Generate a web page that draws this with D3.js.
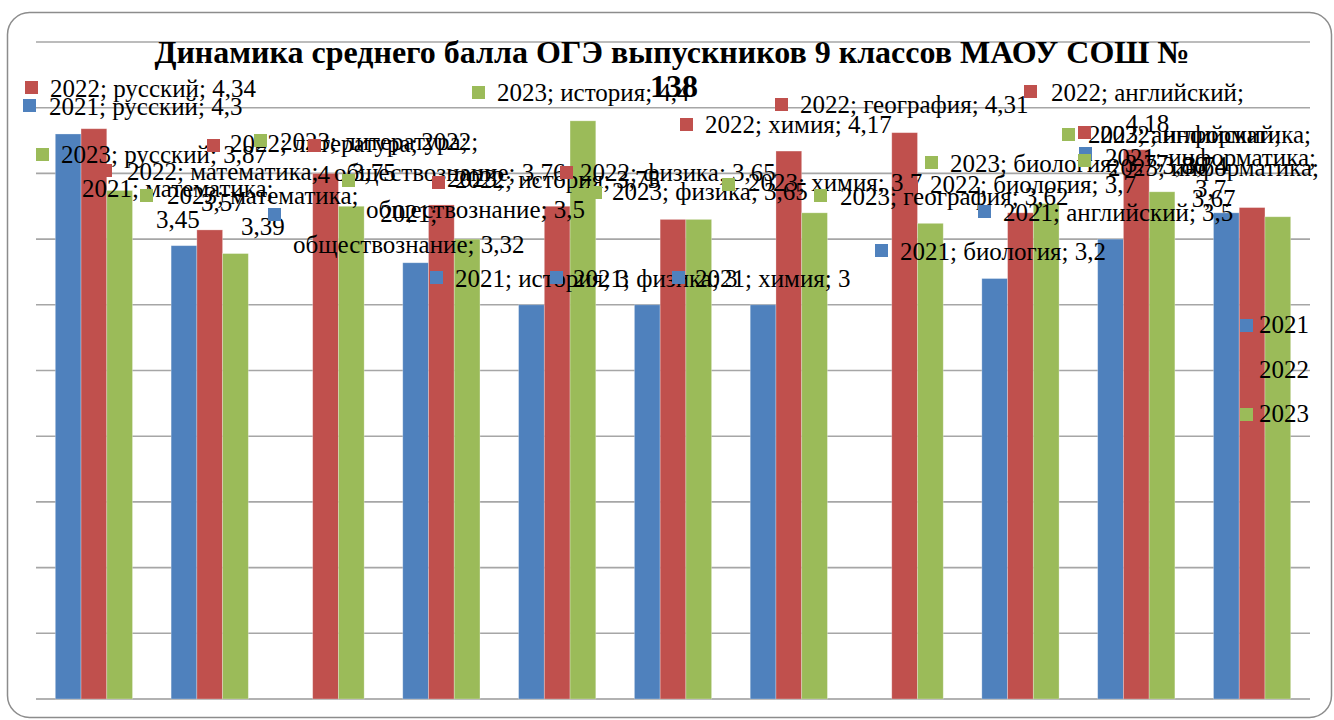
<!DOCTYPE html>
<html>
<head>
<meta charset="utf-8">
<script src="https://cdn.jsdelivr.net/npm/d3@7"></script>
<style>
  body { margin: 0; background: #fff; }
  svg { display: block; }
</style>
</head>
<body>
<svg id="chart"></svg>
<script>
// data
const categories = ['русский', 'математика', 'литература', 'обществознание', 'история', 'физика', 'химия', 'география', 'биология', 'английский', 'информатика'];
const years = ['2021', '2022', '2023'];
const scores2021 = [4.3, 3.45, null, 3.32, 3, 3, 3, null, 3.2, 3.5, 3.7];
const scores2022 = [4.34, 3.57, 4, 3.76, 3.75, 3.65, 4.17, 4.31, 3.7, 4.18, 3.74];
const scores2023 = [3.87, 3.39, 3.75, 3.5, 4.4, 3.65, 3.7, 3.62, 3.77, 3.86, 3.67];
const gridValues = [0, 0.5, 1, 1.5, 2, 2.5, 3, 3.5, 4, 4.5, 5];
const titleLines = ['Динамика среднего балла ОГЭ выпускников 9 классов МАОУ СОШ №', '138'];

const colors = { '2021': '#4f81bd', '2022': '#c0504d', '2023': '#9bbb59' };
const scores = { '2021': scores2021, '2022': scores2022, '2023': scores2023 };

// where excel left the data labels (they were dragged around by hand)
// split: one = single line, cat = break after category, year = break after year
const labelLayout = [
  { year: '2022', cat: 'русский', split: 'one', key: [25, 81], x: 50, y: 97 },
  { year: '2021', cat: 'русский', split: 'one', key: [23, 99], x: 49, y: 115 },
  { year: '2023', cat: 'русский', split: 'one', key: [36, 148], x: 61, y: 163 },
  { year: '2021', cat: 'математика', split: 'cat', key: [64, 198], x: 82, y: 197 },
  { year: '2022', cat: 'математика', split: 'cat', key: [99, 164], x: 127, y: 180 },
  { year: '2023', cat: 'математика', split: 'cat', key: [140, 189], x: 167, y: 204 },
  { year: '2022', cat: 'литература', split: 'cat', key: [207, 139], x: 230, y: 152 },
  { year: '2023', cat: 'литература', split: 'cat', key: [254, 134], x: 280, y: 150 },
  { year: '2021', cat: 'обществознание', split: 'year', key: [268, 208], x: 293, y: 222 },
  { year: '2022', cat: 'обществознание', split: 'year', key: [308, 139], x: 334, y: 150 },
  { year: '2023', cat: 'обществознание', split: 'year', key: [342, 174], x: 366, y: 187 },
  { year: '2023', cat: 'история', split: 'one', key: [472, 86], x: 497, y: 101 },
  { year: '2022', cat: 'история', split: 'one', key: [432, 176], x: 455, y: 188 },
  { year: '2021', cat: 'история', split: 'one', key: [430, 271], x: 455, y: 287 },
  { year: '2022', cat: 'физика', split: 'one', key: [560, 166], x: 580, y: 181 },
  { year: '2023', cat: 'физика', split: 'one', key: [589, 186], x: 612, y: 200 },
  { year: '2021', cat: 'физика', split: 'one', key: [550, 271], x: 573, y: 287 },
  { year: '2022', cat: 'химия', split: 'one', key: [680, 118], x: 705, y: 133 },
  { year: '2023', cat: 'химия', split: 'one', key: [722, 178], x: 748, y: 191 },
  { year: '2021', cat: 'химия', split: 'one', key: [672, 271], x: 695, y: 287 },
  { year: '2022', cat: 'география', split: 'one', key: [775, 98], x: 800, y: 113 },
  { year: '2023', cat: 'география', split: 'one', key: [814, 189], x: 840, y: 205 },
  { year: '2023', cat: 'биология', split: 'one', key: [925, 156], x: 950, y: 172 },
  { year: '2022', cat: 'биология', split: 'one', key: [905, 180], x: 930, y: 193 },
  { year: '2021', cat: 'биология', split: 'one', key: [875, 244], x: 900, y: 260 },
  { year: '2022', cat: 'английский', split: 'cat', key: [1024, 85], x: 1051, y: 101 },
  { year: '2023', cat: 'английский', split: 'cat', key: [1062, 128], x: 1088, y: 143 },
  { year: '2021', cat: 'английский', split: 'one', key: [978, 205], x: 1003, y: 221 },
  { year: '2022', cat: 'информатика', split: 'cat', key: [1078, 126], x: 1100, y: 143 },
  { year: '2021', cat: 'информатика', split: 'cat', key: [1079, 147], x: 1105, y: 166 },
  { year: '2023', cat: 'информатика', split: 'cat', key: [1078, 154], x: 1108, y: 176 }
];

const width = 1334;
const height = 720;
const plot = { left: 36, right: 1310, top: 42, bottom: 699 };
const serif = '"Liberation Serif", "DejaVu Serif", serif';

const svg = d3.select('#chart')
  .attr('width', width)
  .attr('height', height)
  .attr('font-family', serif);

// outer frame
svg.append('rect')
  .attr('x', 7.5)
  .attr('y', 12.5)
  .attr('width', 1324)
  .attr('height', 705)
  .attr('rx', 22)
  .attr('fill', '#fff')
  .attr('stroke', '#8c8c8c')
  .attr('stroke-width', 1.5);

const x0 = d3.scaleBand()
  .domain(categories)
  .range([plot.left, plot.right]);

const step = x0.bandwidth();
const barW = step / 4.5; // gap width 150%
const x1 = d3.scaleBand()
  .domain(years)
  .range([(step - 3 * barW) / 2, (step + 3 * barW) / 2]);

const y = d3.scaleLinear()
  .domain([0, 5])
  .range([plot.bottom, plot.top]);

// gridlines
svg.append('g')
  .selectAll('line')
  .data(gridValues)
  .enter()
  .append('line')
  .attr('x1', plot.left)
  .attr('x2', plot.right)
  .attr('y1', d => y(d))
  .attr('y2', d => y(d))
  .attr('stroke', d => d === 0 ? '#989898' : '#a6a6a6')
  .attr('stroke-width', 1.6);

// bars
const barData = [];
categories.forEach((c, i) => {
  years.forEach(yr => {
    const v = scores[yr][i];
    if (v != null) barData.push({ cat: c, year: yr, value: v });
  });
});

svg.append('g')
  .selectAll('rect')
  .data(barData)
  .enter()
  .append('rect')
  .attr('x', d => x0(d.cat) + x1(d.year))
  .attr('y', d => y(d.value))
  .attr('width', x1.bandwidth())
  .attr('height', d => y(0) - y(d.value))
  .attr('fill', d => colors[d.year])
  .attr('stroke', '#fff')
  .attr('stroke-opacity', 0.35)
  .attr('stroke-width', 0.8);

// title
const title = svg.append('text')
  .attr('text-anchor', 'middle')
  .attr('font-family', serif)
  .style('font-size', '32px')
  .style('font-weight', 'bold');
title.append('tspan').attr('x', 672).attr('y', 63).text(titleLines[0]);
title.append('tspan').attr('x', 674).attr('y', 97).text(titleLines[1]);

// data labels
const fmt = v => String(v).replace('.', ',');
const labelSize = 25;
const lineGap = 31;

const labels = svg.append('g');
labelLayout.forEach(l => {
  const i = categories.indexOf(l.cat);
  const v = scores[l.year][i];
  let lines;
  if (l.split === 'cat') lines = [`${l.year}; ${l.cat};`, fmt(v)];
  else if (l.split === 'year') lines = [`${l.year};`, `${l.cat}; ${fmt(v)}`];
  else lines = [`${l.year}; ${l.cat}; ${fmt(v)}`];

  labels.append('rect')
    .attr('x', l.key[0])
    .attr('y', l.key[1])
    .attr('width', 13)
    .attr('height', 13)
    .attr('fill', colors[l.year]);

  const t = labels.append('text')
    .attr('font-family', serif)
    .style('font-size', labelSize + 'px')
    .attr('fill', '#000');
  const spans = lines.map((s, k) => t.append('tspan').attr('y', l.y + k * lineGap).text(s));
  if (lines.length === 1) {
    spans[0].attr('x', l.x);
  } else {
    const w = d3.max(spans, s => s.node().getComputedTextLength());
    spans.forEach(s => s.attr('x', l.x + w / 2).attr('text-anchor', 'middle'));
  }
});

// legend
const legend = svg.append('g');
years.forEach((yr, k) => {
  legend.append('rect')
    .attr('x', 1240)
    .attr('y', 319 + k * 44.5)
    .attr('width', 13)
    .attr('height', 13)
    .attr('fill', colors[yr]);
  legend.append('text')
    .attr('x', 1259)
    .attr('y', 333 + k * 44.5)
    .attr('font-family', serif)
    .style('font-size', labelSize + 'px')
    .text(yr);
});
</script>
</body>
</html>
